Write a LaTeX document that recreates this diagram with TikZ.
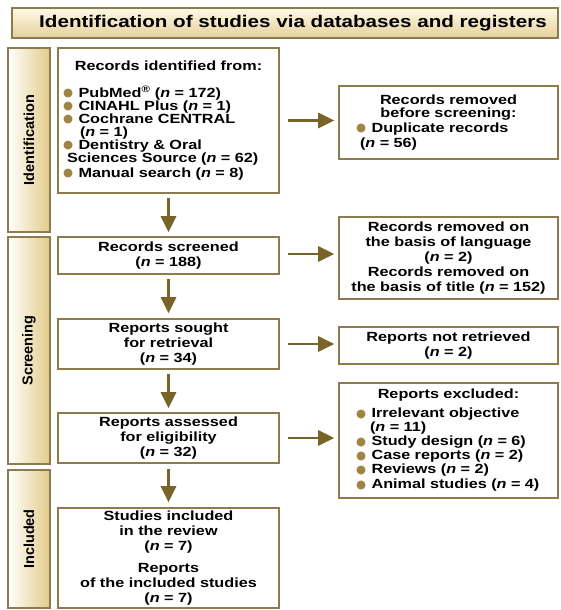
\documentclass[tikz,border=0pt]{standalone}
\usepackage{fontspec}
\setmainfont{Liberation Sans}[FakeStretch=1.22]
\newfontfamily\plainsans{Liberation Sans}
\newfontfamily\dejavu{DejaVu Sans}
\usetikzlibrary{arrows.meta,calc}
\definecolor{bord}{HTML}{8C7B4E}
\definecolor{arrc}{HTML}{7A6328}
\definecolor{bulc}{HTML}{A08444}
\definecolor{bargold}{HTML}{E2CA88}
\definecolor{tcream}{HTML}{FFF9E6}
\definecolor{ttan}{HTML}{E4D09A}
\newcommand\nn{\textit{n}}
\newcommand\bul{\raisebox{0.6pt}{\color{bulc}\dejavu\fontsize{11.5}{11}\selectfont ●}\hspace{5.5pt}}
\tikzset{
  body/.style={font=\fontsize{13.3}{15}\selectfont\bfseries},
  box/.style={draw=bord, line width=1.6pt, fill=white, body, inner sep=0pt, align=center},
  bar/.style={draw=bord, line width=1.6pt, left color=white, right color=bargold, minimum width=42pt},
  barlabel/.style={rotate=90, font=\plainsans\fontsize{14.5}{16}\selectfont\bfseries},
  arr/.style={draw=arrc, line width=2.8pt, -{Triangle[length=16pt,width=15pt]}},
}
\begin{document}
\begin{tikzpicture}[x=1pt,y=-1pt]
\useasboundingbox (0,0) rectangle (560,610);
% title
\node[draw=bord, line width=1.6pt, top color=tcream, bottom color=ttan, minimum width=546pt, minimum height=30pt,
  font=\fontsize{16.9}{18}\selectfont\bfseries] (title) at (285,23) {\hspace*{16pt}Identification of studies via databases and registers};
% side bars
\node[bar, minimum height=184pt] (bident) at (29,140) {};
\node[barlabel] (lident) at (bident.center) {Identification};
\node[bar, minimum height=227pt] (bscreen) at (29,350.5) {};
\node[barlabel] (lscreen) at (bscreen.center) {Screening};
\node[bar, minimum height=138pt] (bincl) at (29,539) {};
\node[barlabel] (lincl) at (bincl.center) {Included};
% left boxes
\node[box, minimum width=221pt, minimum height=145pt, text width=211pt, align=left, inner xsep=5pt] (ident) at (168.5,120.5) {%
\makebox[\linewidth]{Records identified from:}\\[14pt]
\fontsize{13.3}{13}\selectfont\lineskiplimit=-6pt
\bul PubMed\textsuperscript{®} (\nn{} = 172)\\
\bul CINAHL Plus (\nn{} = 1)\\
\bul Cochrane CENTRAL\\
\hspace*{17pt}(\nn{} = 1)\\
\bul Dentistry \& Oral\\
\hspace*{4pt}Sciences Source (\nn{} = 62)\\
\bul Manual search (\nn{} = 8)};
\node[box, minimum width=221pt, minimum height=37pt] (screened) at (168.5,255.5) {Records screened\\(\nn{} = 188)};
\node[box, minimum width=221pt, minimum height=50pt] (sought) at (168.5,344) {Reports sought\\for retrieval\\(\nn{} = 34)};
\node[box, minimum width=221pt, minimum height=50pt] (assessed) at (168.5,438) {Reports assessed\\for eligibility\\(\nn{} = 32)};
\node[box, minimum width=221pt, minimum height=100pt] (included) at (168.5,558) {Studies included\\in the review\\(\nn{} = 7)\\[7pt]Reports\\of the included studies\\(\nn{} = 7)};
% right boxes
\node[box, minimum width=219pt, minimum height=73pt, text width=185pt, align=left, inner xsep=17pt] (removed) at (448.5,122.5) {%
\parbox{\linewidth}{\centering\fontsize{13.3}{12.5}\selectfont\lineskiplimit=-6pt Records removed\\before screening:}\\[6pt]
\lineskiplimit=-6pt
\bul Duplicate records\\
\hspace*{4pt}(\nn{} = 56)};
\node[box, minimum width=219pt, minimum height=82pt] (language) at (448.5,258) {Records removed on\\the basis of language\\(\nn{} = 2)\\Records removed on\\the basis of title (\nn{} = 152)};
\node[box, minimum width=219pt, minimum height=37pt] (notret) at (448.5,345.5) {Reports not retrieved\\(\nn{} = 2)};
\node[box, minimum width=219pt, minimum height=115pt, text width=185pt, align=left, inner xsep=17pt] (excluded) at (448.5,440.5) {%
\makebox[\linewidth][c]{Reports excluded:}\\[5pt]
\fontsize{13.3}{14}\selectfont\lineskiplimit=-6pt
\bul Irrelevant objective\\
\hspace*{14pt}(\nn{} = 11)\\
\bul Study design (\nn{} = 6)\\
\bul Case reports (\nn{} = 2)\\
\bul Reviews (\nn{} = 2)\\
\bul Animal studies (\nn{} = 4)};
% vertical arrows
\draw[arr, shorten <=4pt, shorten >=4pt] (ident.south) -- (screened.north);
\draw[arr, shorten <=4pt, shorten >=5pt] (screened.south) -- (sought.north);
\draw[arr, shorten <=4pt, shorten >=4pt] (sought.south) -- (assessed.north);
\draw[arr, shorten <=5pt, shorten >=5pt] (assessed.south) -- (included.north);
% horizontal arrows
\coordinate (scrout) at ([yshift=1.5pt]screened.east);
\draw[arr, shorten <=8pt, shorten >=4pt] (ident.east) -- (removed.west |- ident.east);
\draw[arr, shorten <=8pt, shorten >=4pt] (scrout) -- (language.west |- scrout);
\draw[arr, shorten <=8pt, shorten >=4pt] (sought.east) -- (notret.west |- sought.east);
\draw[arr, shorten <=8pt, shorten >=4pt] (assessed.east) -- (excluded.west |- assessed.east);
\end{tikzpicture}
\end{document}
